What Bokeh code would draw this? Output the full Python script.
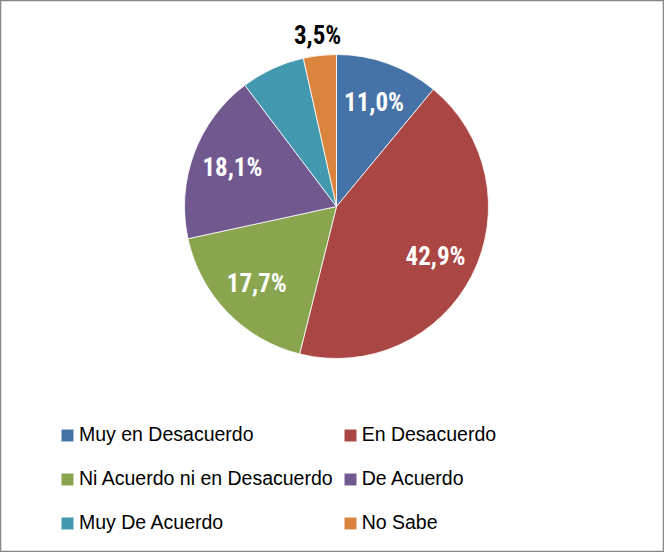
import math
from bokeh.plotting import figure
from bokeh.models import ColumnDataSource, Legend, LegendItem, Range1d
from bokeh.core.properties import value
from bokeh.embed import file_html
from bokeh.resources import INLINE

categories = ["Muy en Desacuerdo", "En Desacuerdo", "Ni Acuerdo ni en Desacuerdo",
              "De Acuerdo", "Muy De Acuerdo", "No Sabe"]
values = [11.0, 42.9, 17.7, 18.1, 6.8, 3.5]
colors = ["#4572A7", "#AA4643", "#89A54E", "#71588F", "#4198AF", "#DB843D"]
show_label = [True, True, True, True, False, True]

W, H = 664, 552
R_PX = 152.0
CX, CY = 336.0, 206.0  # pie centre in px from top-left of figure

total = sum(values)
starts, ends, mids = [], [], []
cum = 0.0
for v in values:
    a0 = math.pi / 2 - 2 * math.pi * (cum + v) / total
    a1 = math.pi / 2 - 2 * math.pi * cum / total
    starts.append(a0)
    ends.append(a1)
    mids.append((a0 + a1) / 2)
    cum += v

src = ColumnDataSource(dict(cat=categories, val=values, color=colors,
                            start=starts, end=ends))

p = figure(width=W, height=H, output_backend="svg", toolbar_location=None,
           x_axis_type=None, y_axis_type=None, min_border=0,
           x_range=Range1d(-CX / R_PX, (W - CX) / R_PX),
           y_range=Range1d(-(H - CY) / R_PX, CY / R_PX))
p.grid.visible = False
p.outline_line_color = "#868686"
p.outline_line_width = 1.5
p.background_fill_color = "white"
p.border_fill_color = "white"

r = p.wedge(x=0, y=0, radius=1.0, start_angle="start", end_angle="end",
            fill_color="color", line_color="white", line_width=0.8, source=src)

lx, ly, lt, lc = [], [], [], []
for i, v in enumerate(values):
    if not show_label[i]:
        continue
    inside = v >= 5
    rr = 0.73 if inside else 1.13
    lx.append(rr * math.cos(mids[i]))
    ly.append(rr * math.sin(mids[i]))
    lt.append(f"{v:.1f}%".replace(".", ","))
    lc.append("white" if inside else "black")

p.text(x=lx, y=ly, text=lt, text_color=lc, text_align="center",
       text_baseline="middle",
       text_font=value("Roboto Condensed, DejaVu Sans Condensed, Roboto, sans-serif"),
       text_font_style="bold", text_font_size="25px")

items = [LegendItem(label=c, renderers=[r], index=i) for i, c in enumerate(categories)]
legend = Legend(items=items, orientation="horizontal", ncols=2,
                location=(59, 12), glyph_width=16, glyph_height=16,
                label_height=35, label_standoff=4, spacing=9,
                padding=0, margin=0, border_line_color=None,
                background_fill_alpha=0,
                label_text_font="Liberation Sans", label_text_font_size="19.5px",
                label_text_color="black")
p.add_layout(legend, "center")

open("out.html", "w").write(file_html(p, INLINE))
